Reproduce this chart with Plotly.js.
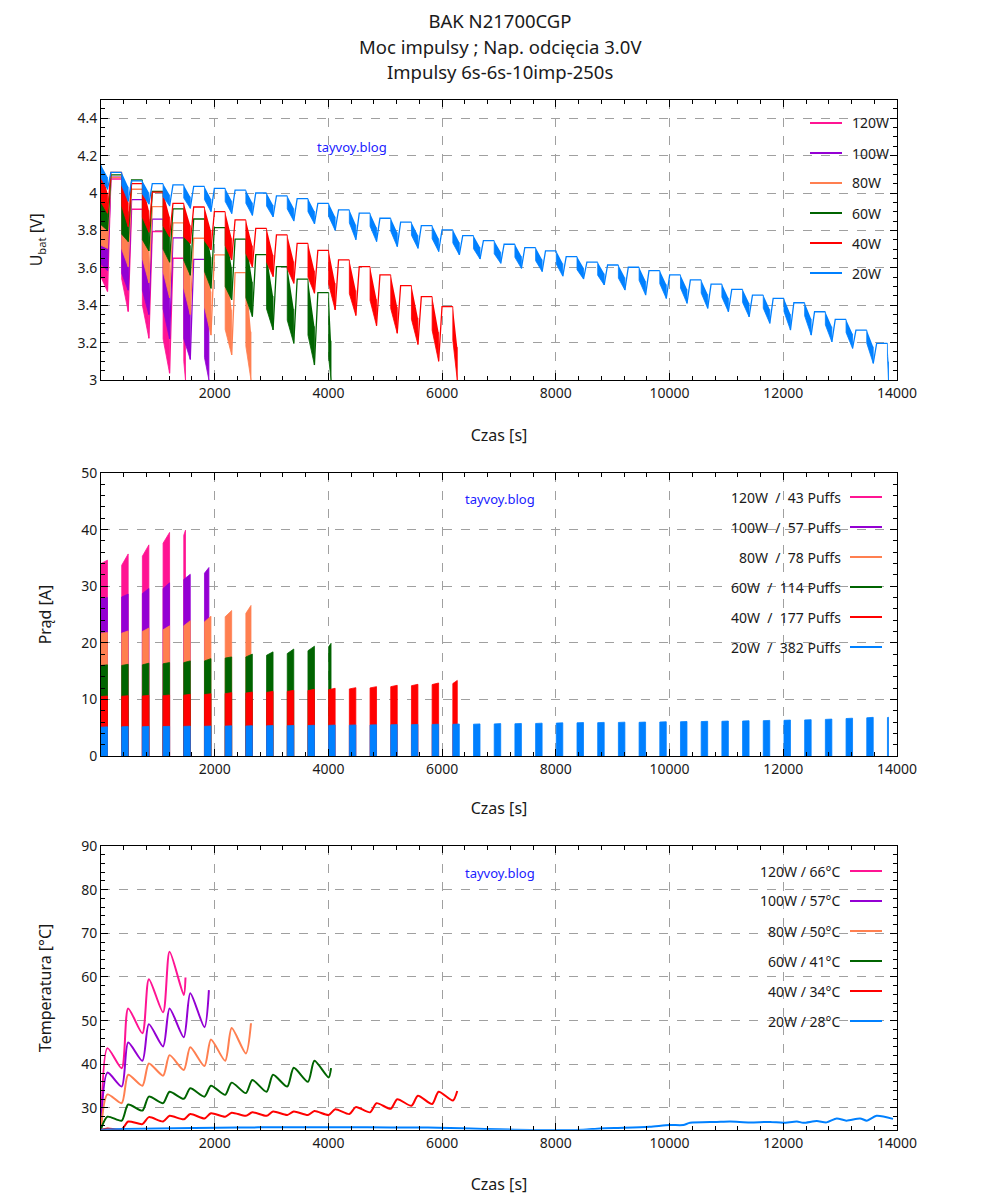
<!DOCTYPE html>
<html><head><meta charset="utf-8">
<script src="https://cdn.plot.ly/plotly-3.0.1.min.js"></script>
<style>body{margin:0;background:#fff}#chart{width:1000px;height:1200px}</style>
</head><body><div id="chart"></div>
<script>
// ---- protocol (from title "Impulsy 6s-6s-10imp-250s")
const PULSE_ON = 6, PULSE_OFF = 6, PULSES_PER_BURST = 10, REST_S = 250;
// time after a burst at which the rest voltage is reached
const RECOVERY_S = 60;

// ---- series
const seriesNames = ['120W','100W','80W','60W','40W','20W'];
const seriesColors = ['#ff1493','#9400d3','#ff7f50','#006400','#ff0000','#0080ff'];
const puffs = [43, 57, 78, 114, 177, 382];
const maxTemp = [66, 57, 50, 41, 34, 28];

// ---- voltage per burst: rest level at burst start, loaded voltage at first / last pulse,
//      upper (between-pulse) envelope at the end of the burst
const uRest120 = [4.13, 4.075, 3.913, 3.794, 3.651];
const uLoS120  = [3.55, 3.54, 3.40, 3.22, 3.10];
const uLoE120  = [3.473, 3.366, 3.223, 3.036, 3.0];
const uHiE120  = [3.77, 3.685, 3.533, 3.377, 3.293];

const uRest100 = [4.13, 4.085, 3.965, 3.86, 3.76, 3.645];
const uLoS100  = [3.62, 3.57, 3.48, 3.38, 3.22, 3.12];
const uLoE100  = [3.585, 3.48, 3.35, 3.22, 3.11, 3.0];
const uHiE100  = [3.83, 3.752, 3.627, 3.508, 3.402, 3.29];

const uRest80 = [4.13, 4.084, 4.02, 3.927, 3.84, 3.758, 3.669, 3.574];
const uLoS80  = [3.72, 3.70, 3.65, 3.58, 3.49, 3.39, 3.27, 3.18];
const uLoE80  = [3.704, 3.606, 3.52, 3.44, 3.35, 3.24, 3.134, 3.0];
const uHiE80  = [3.896, 3.821, 3.745, 3.659, 3.57, 3.473, 3.375, 3.258];

const uRest60 = [4.13, 4.097, 4.07, 4.008, 3.915, 3.861, 3.815, 3.753, 3.67, 3.606, 3.539, 3.467];
const uLoS60  = [3.83, 3.78, 3.75, 3.70, 3.64, 3.58, 3.50, 3.44, 3.38, 3.32, 3.24, 3.12];
const uLoE60  = [3.80, 3.74, 3.69, 3.63, 3.56, 3.49, 3.428, 3.339, 3.268, 3.196, 3.08, 3.0];
const uHiE60  = [3.948, 3.901, 3.861, 3.80, 3.72, 3.657, 3.602, 3.525, 3.449, 3.38, 3.287, 3.21];

const uRest40 = [4.13, 4.11, 4.05, 4.005, 3.945, 3.925, 3.90, 3.856, 3.811, 3.776, 3.731, 3.693, 3.642, 3.606, 3.562, 3.505, 3.446, 3.392];
const uLoS40  = [3.95, 3.93, 3.87, 3.825, 3.765, 3.745, 3.72, 3.676, 3.631, 3.596, 3.551, 3.513, 3.462, 3.426, 3.382, 3.325, 3.266, 3.212];
const uLoE40  = [3.892, 3.82, 3.79, 3.765, 3.73, 3.695, 3.642, 3.605, 3.553, 3.517, 3.464, 3.375, 3.345, 3.29, 3.25, 3.19, 3.10, 3.0];
const uHiE40  = [4.0, 3.95, 3.907, 3.873, 3.827, 3.798, 3.758, 3.718, 3.669, 3.634, 3.584, 3.518, 3.479, 3.432, 3.39, 3.332, 3.256, 3.176];

const uRest20 = [4.15, 4.11, 4.065, 4.05, 4.043, 4.035, 4.025, 4.015, 4.0, 3.985, 3.97, 3.945, 3.91, 3.892, 3.865, 3.844, 3.826, 3.803, 3.772, 3.745, 3.726, 3.708, 3.69, 3.66, 3.63, 3.615, 3.603, 3.585, 3.562, 3.535, 3.513, 3.485, 3.454, 3.436, 3.413, 3.365, 3.324, 3.267, 3.196];
const uLoS20  = [4.08, 4.04, 3.995, 3.98, 3.973, 3.965, 3.955, 3.945, 3.93, 3.915, 3.90, 3.875, 3.84, 3.822, 3.795, 3.774, 3.756, 3.733, 3.702, 3.675, 3.656, 3.638, 3.62, 3.59, 3.56, 3.545, 3.533, 3.515, 3.492, 3.465, 3.443, 3.415, 3.384, 3.366, 3.343, 3.295, 3.254, 3.197, 3.126];
const uLoE20  = [4.02, 3.955, 3.94, 3.93, 3.918, 3.90, 3.89, 3.88, 3.872, 3.85, 3.835, 3.80, 3.75, 3.74, 3.713, 3.704, 3.687, 3.669, 3.647, 3.624, 3.597, 3.58, 3.555, 3.54, 3.508, 3.481, 3.454, 3.436, 3.41, 3.383, 3.365, 3.338, 3.303, 3.267, 3.24, 3.204, 3.169, 3.089, 3.0];
const uHiE20  = [4.085, 4.033, 4.003, 3.99, 3.98, 3.968, 3.958, 3.948, 3.936, 3.918, 3.903, 3.873, 3.83, 3.816, 3.789, 3.774, 3.757, 3.736, 3.71, 3.685, 3.662, 3.644, 3.623, 3.60, 3.569, 3.548, 3.529, 3.511, 3.486, 3.459, 3.439, 3.412, 3.379, 3.352, 3.327, 3.285, 3.247, 3.178, 3.098];

// ---- current per burst: at first pulse / at last pulse [A]
const iS120 = [34.0, 33.7, 35.3, 37.6, 39.0];
const iE120 = [34.6, 35.7, 37.3, 39.5, 39.9];
const iS100 = [27.8, 28.1, 28.7, 29.6, 31.2, 32.3];
const iE100 = [28.0, 28.6, 29.6, 30.6, 32.1, 33.3];
const iS80 = [21.7, 21.7, 22.0, 22.3, 23.0, 23.7, 24.6, 25.2];
const iE80 = [21.8, 22.1, 22.6, 23.0, 23.9, 24.7, 25.7, 26.6];
const iS60 = [16.0, 16.0, 16.1, 16.3, 16.5, 16.8, 17.3, 17.5, 17.8, 18.1, 18.6, 19.3];
const iE60 = [16.1, 16.2, 16.4, 16.5, 16.8, 17.2, 17.5, 18.0, 18.4, 18.9, 19.4, 19.9];
const iS40 = [10.5, 10.55, 10.6, 10.65, 10.75, 10.85, 11.02, 11.12, 11.24, 11.4, 11.56, 11.72, 11.85, 12.03, 12.25, 12.42, 12.62, 12.8];
const iE40 = [10.6, 10.66, 10.72, 10.78, 10.9, 11.0, 11.2, 11.3, 11.42, 11.6, 11.78, 11.96, 12.07, 12.25, 12.49, 12.66, 12.9, 13.35];
const iS20 = [5.1, 5.15, 5.17, 5.2, 5.23, 5.25, 5.28, 5.3, 5.33, 5.35, 5.38, 5.41, 5.44, 5.47, 5.5, 5.53, 5.57, 5.6, 5.62, 5.67, 5.7, 5.75, 5.81, 5.86, 5.89, 5.93, 5.95, 6.0, 6.05, 6.08, 6.13, 6.18, 6.24, 6.3, 6.37, 6.47, 6.62, 6.75, 6.8];
const iE20 = [5.15, 5.2, 5.22, 5.25, 5.28, 5.3, 5.33, 5.35, 5.38, 5.4, 5.43, 5.46, 5.49, 5.52, 5.55, 5.58, 5.62, 5.65, 5.67, 5.72, 5.75, 5.8, 5.86, 5.91, 5.94, 5.98, 6.0, 6.05, 6.1, 6.13, 6.18, 6.23, 6.29, 6.35, 6.42, 6.52, 6.68, 6.83, 6.85];

// ---- temperature: value at each burst start and burst end [°C]
const temp120 = [25.0, 43.7, 39.1, 52.8, 47.1, 59.5, 51.9, 65.8, 55.9, 59.9];
const temp100 = [25.2, 38.1, 34.9, 45.0, 40.8, 49.2, 44.1, 52.8, 46.2, 56.3, 48.5, 57.0];
const temp80  = [25.0, 33.1, 31.1, 37.6, 35.1, 40.2, 37.4, 42.1, 38.7, 43.9, 39.6, 45.7, 40.8, 48.3, 42.5, 49.4];
const temp60  = [25.2, 28.0, 27.1, 30.8, 29.4, 32.6, 31.1, 33.7, 32.1, 34.5, 32.6, 35.1, 33.0, 35.8, 33.4, 36.4, 33.7, 37.6, 34.9, 39.2, 36.0, 40.8, 37.0, 39.1];
const temp40  = [25.0, 25.3, 25.1, 26.9, 26.3, 27.9, 26.9, 28.2, 27.4, 28.6, 27.6, 28.8, 28.0, 28.9, 28.2, 29.0, 28.2, 29.2, 28.4, 29.2, 28.4, 29.3, 28.4, 29.7, 28.6, 30.2, 29.0, 31.1, 29.8, 32.0, 30.5, 32.8, 30.9, 33.7, 31.7, 33.9];
// 20W temperature read as (time, value) points
const temp20T = [0, 400, 1000, 1650, 2400, 3100, 4300, 5100, 5750, 6140, 6500, 7000, 7550, 8000, 8480, 8780, 9200, 9650, 10000, 10240, 10360, 10830, 11060, 11410, 11770, 12000, 12240, 12350, 12590, 12760, 12940, 13110, 13350, 13470, 13640, 13930];
const temp20  = [25.0, 25.2, 25.3, 25.4, 25.5, 25.6, 25.6, 25.55, 25.5, 25.4, 25.3, 25.1, 24.95, 24.95, 25.0, 25.3, 25.45, 25.7, 26.1, 26.1, 26.6, 26.8, 26.9, 26.7, 26.8, 26.6, 26.9, 26.6, 27.0, 26.7, 27.6, 27.1, 27.6, 27.1, 28.2, 27.5];

// ---- tick labels
const xTicks = [2000, 4000, 6000, 8000, 10000, 12000, 14000];

// ---- tables
const uRest = [uRest120, uRest100, uRest80, uRest60, uRest40, uRest20];
const uLoS = [uLoS120, uLoS100, uLoS80, uLoS60, uLoS40, uLoS20];
const uLoE = [uLoE120, uLoE100, uLoE80, uLoE60, uLoE40, uLoE20];
const uHiE = [uHiE120, uHiE100, uHiE80, uHiE60, uHiE40, uHiE20];
const iS = [iS120, iS100, iS80, iS60, iS40, iS20];
const iE = [iE120, iE100, iE80, iE60, iE40, iE20];
const temps = [temp120, temp100, temp80, temp60, temp40, null];

function burstTimes(n) {
  const burstLen = PULSES_PER_BURST * PULSE_ON + (PULSES_PER_BURST - 1) * PULSE_OFF;
  const period = burstLen + REST_S;
  const out = [];
  let left = n, k = 0;
  while (left > 0) {
    const p = Math.min(PULSES_PER_BURST, left);
    const t0 = k * period;
    out.push({t0: t0, t1: t0 + p * PULSE_ON + (p - 1) * PULSE_OFF});
    left -= p; k++;
  }
  return out;
}

const FONT = 'Noto Sans, DejaVu Sans, sans-serif';
const traces = [];
seriesNames.forEach((name, s) => {
  const c = seriesColors[s];
  const bt = burstTimes(puffs[s]);
  const bx = [], by = [], rx = [], ry = [], cx = [], cy = [], tx = [], ty = [];
  bt.forEach((b, k) => {
    bx.push(b.t0, b.t0, b.t1, b.t1, null);
    by.push(uRest[s][k], uLoS[s][k], uLoE[s][k], uHiE[s][k], null);
    if (k < bt.length - 1) {
      rx.push(b.t1, b.t1 + RECOVERY_S, bt[k + 1].t0, null);
      ry.push(uLoE[s][k], uRest[s][k + 1], uRest[s][k + 1], null);
    }
    cx.push(b.t0, b.t0, b.t1, b.t1, null);
    cy.push(0, iS[s][k], iE[s][k], 0, null);
    if (temps[s]) { tx.push(b.t0, b.t1); ty.push(temps[s][2 * k], temps[s][2 * k + 1]); }
  });
  const common = {mode: 'lines', hoverinfo: 'skip', showlegend: false, name: name};
  traces.push(Object.assign({x: bx, y: by, xaxis: 'x', yaxis: 'y', fill: 'toself', fillcolor: c, line: {color: c, width: 0.8}}, common));
  traces.push(Object.assign({x: rx, y: ry, xaxis: 'x', yaxis: 'y', line: {color: c, width: 1.3}}, common));
  traces.push(Object.assign({x: cx, y: cy, xaxis: 'x2', yaxis: 'y2', fill: 'toself', fillcolor: c, line: {color: c, width: 0.8}}, common));
  if (temps[s]) traces.push(Object.assign({x: tx, y: ty, xaxis: 'x3', yaxis: 'y3', line: {color: c, width: 2, shape: 'spline', smoothing: 0.7}}, common));
  else traces.push(Object.assign({x: temp20T, y: temp20, xaxis: 'x3', yaxis: 'y3', line: {color: c, width: 2, shape: 'spline', smoothing: 0.7}}, common));
});

// ---- layout helpers (page pixel -> paper of plotting area)
const W = 1000, H = 1200;
const M = {l: 101, r: 103, t: 99, b: 70};
const PW = W - M.l - M.r, PH = H - M.t - M.b;
const px = x => (x - M.l) / PW, py = y => (H - M.b - y) / PH;
const tickFont = {family: FONT, size: 14, color: '#1a1a1a'};
const titleFont = {family: FONT, size: 16, color: '#1a1a1a'};

function xAxis(anchor, standoff) {
  return {domain: [0, 1], anchor: anchor, range: [0, 14000], tickmode: 'array', tickvals: xTicks, tickformat: 'd',
    ticks: 'inside', ticklen: 7, tickcolor: '#000', showline: true, linecolor: '#000', linewidth: 1, mirror: 'allticks',
    showgrid: true, gridcolor: '#a0a0a0', griddash: 'dash', gridwidth: 1, zeroline: false,
    minor: {dtick: 400, tick0: 0, ticks: 'inside', ticklen: 4, tickcolor: '#000', showgrid: false},
    tickfont: tickFont, fixedrange: true, automargin: false,
    title: {text: 'Czas [s]', font: titleFont, standoff: standoff}};
}
function yAxis(anchor, y0, y1, range, tick0, dtick, mdtick, title, standoff) {
  return {domain: [py(y1), py(y0)], anchor: anchor, range: range, tickmode: 'linear', tick0: tick0, dtick: dtick,
    ticks: 'inside', ticklen: 7, tickcolor: '#000', showline: true, linecolor: '#000', linewidth: 1, mirror: 'allticks',
    showgrid: true, gridcolor: '#a0a0a0', griddash: 'dash', gridwidth: 1, zeroline: false,
    minor: {dtick: mdtick, ticks: 'inside', ticklen: 4, tickcolor: '#000', showgrid: false},
    tickfont: tickFont, fixedrange: true, automargin: false,
    title: {text: title, font: titleFont, standoff: standoff}};
}

const annotations = [];
const shapes = [];
function addText(text, x, y, size, opts) {
  annotations.push(Object.assign({text: text, x: px(x), y: py(y), xref: 'paper', yref: 'paper', showarrow: false,
    xanchor: 'center', yanchor: 'middle', font: {family: FONT, size: size, color: '#1a1a1a'}}, opts || {}));
}
addText('Moc impulsy ; Nap. odcięcia 3.0V', 500, 46, 18.5);
addText('Impulsy 6s-6s-10imp-250s', 500, 71, 18.5);
[[352, 147], [500, 499], [500, 873]].forEach(p => addText('tayvoy.blog', p[0], p[1], 13, {font: {family: FONT, size: 13, color: '#2020ff'}}));

const NB = '\u00a0';
seriesNames.forEach((name, s) => {
  const c = seriesColors[s];
  let y = 123 + 30 * s;
  shapes.push({type: 'line', xref: 'paper', yref: 'paper', x0: px(810), x1: px(842), y0: py(y), y1: py(y), line: {color: c, width: 2}});
  addText(name, 850, y, 14, {xanchor: 'left'});
  y = 497 + 30 * s;
  shapes.push({type: 'line', xref: 'paper', yref: 'paper', x0: px(850), x1: px(882), y0: py(y), y1: py(y), line: {color: c, width: 2}});
  addText(name + NB + NB + '/' + NB + NB + puffs[s] + ' Puffs', 843, y, 14, {xanchor: 'right'});
  y = 871 + 30 * s;
  shapes.push({type: 'line', xref: 'paper', yref: 'paper', x0: px(850), x1: px(882), y0: py(y), y1: py(y), line: {color: c, width: 2}});
  addText(name + ' / ' + maxTemp[s] + '°C', 843, y, 14, {xanchor: 'right'});
});

const layout = {
  width: W, height: H, margin: M, paper_bgcolor: '#fff', plot_bgcolor: '#fff',
  showlegend: false, font: {family: FONT, color: '#1a1a1a'},
  title: {text: 'BAK N21700CGP', font: {family: FONT, size: 18.5, color: '#1a1a1a'}, x: 0.5, xanchor: 'center',
    xref: 'container', yref: 'container', y: 1 - 22 / H, yanchor: 'middle'},
  xaxis: xAxis('y', 29), yaxis: yAxis('x', 99.5, 380, [3, 4.5], 3, 0.2, 0.05, 'U<sub>bat</sub> [V]', 30),
  xaxis2: xAxis('y2', 26), yaxis2: yAxis('x2', 473, 756, [0, 50], 0, 10, 2, 'Prąd [A]', 25),
  xaxis3: xAxis('y3', 28), yaxis3: yAxis('x3', 846, 1129.8, [25, 90], 30, 10, 2, 'Temperatura [°C]', 25),
  annotations: annotations, shapes: shapes
};
Plotly.newPlot('chart', traces, layout, {staticPlot: true, displayModeBar: false});
</script></body></html>
